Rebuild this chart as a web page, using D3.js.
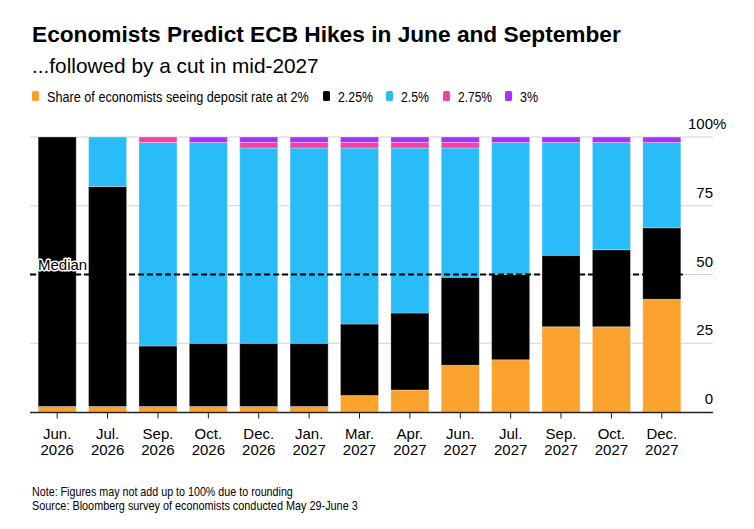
<!DOCTYPE html>
<html>
<head>
<meta charset="utf-8">
<script src="https://cdn.jsdelivr.net/npm/d3@7"></script>
<style>
  body { margin: 0; background: #fff; }
  svg { font-family: "Liberation Sans", Arial, sans-serif; }
</style>
</head>
<body>
<svg id="chart"></svg>
<script>
// Chart data
const months = ["Jun.", "Jul.", "Sep.", "Oct.", "Dec.", "Jan.", "Mar.", "Apr.", "Jun.", "Jul.", "Sep.", "Oct.", "Dec."];
const years = ["2026", "2026", "2026", "2026", "2026", "2027", "2027", "2027", "2027", "2027", "2027", "2027", "2027"];
const rate200 = [2, 2, 2, 2, 2, 2, 6, 8, 17, 19, 31, 31, 41];
const rate225 = [98, 80, 22, 23, 23, 23, 26, 28, 32, 31, 26, 28, 26];
const rate250 = [0, 18, 74, 73, 71, 71, 64, 60, 47, 48, 41, 39, 31];
const rate275 = [0, 0, 2, 0, 2, 2, 2, 2, 2, 0, 0, 0, 0];
const rate300 = [0, 0, 0, 2, 2, 2, 2, 2, 2, 2, 2, 2, 2];
const seriesNames = ["Share of economists seeing deposit rate at 2%", "2.25%", "2.5%", "2.75%", "3%"];
const seriesColors = ["#fba12d", "#000000", "#29bcf8", "#fb40a4", "#a832fb"];
const yTicks = [0, 25, 50, 75, 100];
const medianValue = 50;

const width = 754, height = 529;
const svg = d3.select("#chart").attr("width", width).attr("height", height);

// plot area
const plot = {left: 30, right: 713, top: 137, bottom: 412};

const keys = ["r200", "r225", "r250", "r275", "r300"];
const rows = months.map((m, i) => ({
  key: m + " " + years[i], month: m, year: years[i],
  r200: rate200[i], r225: rate225[i], r250: rate250[i], r275: rate275[i], r300: rate300[i]
}));

const x = d3.scaleBand()
  .domain(rows.map(d => d.key))
  .range([32, 687])
  .paddingInner(0.245)
  .paddingOuter(0.1225);

const y = d3.scaleLinear().domain([0, 100]).range([plot.bottom, plot.top]);

const color = d3.scaleOrdinal().domain(keys).range(seriesColors);

// text squeezed horizontally to a width (the original font is narrower)
function narrowText(parent, tx, ty, str, size, w) {
  const t = parent.append("text")
    .style("font-size", size + "px")
    .text(str);
  const k = Math.min(1, w / t.node().getComputedTextLength());
  t.attr("transform", `translate(${tx},${ty}) scale(${k},1)`);
  return t;
}

// Title + subtitle
svg.append("text")
  .attr("x", 32).attr("y", 42)
  .style("font-size", "22.7px").style("font-weight", "bold")
  .text("Economists Predict ECB Hikes in June and September");

svg.append("text")
  .attr("x", 32).attr("y", 73)
  .style("font-size", "20.8px")
  .text("...followed by a cut in mid-2027");

// Legend
const legendX = [32, 323, 386, 443, 505];
const legendW = [262, 35, 28, 34, 18];
const legend = svg.append("g");
seriesNames.forEach((name, i) => {
  legend.append("rect")
    .attr("x", legendX[i]).attr("y", 91)
    .attr("width", 7).attr("height", 10).attr("rx", 1.5)
    .attr("fill", seriesColors[i]);
  narrowText(legend, legendX[i] + 15, 101.5, name, 15, legendW[i]);
});

// Gridlines
svg.append("g").selectAll("line")
  .data(yTicks.filter(t => t !== 0))
  .join("line")
  .attr("x1", plot.left).attr("x2", plot.right)
  .attr("y1", d => y(d)).attr("y2", d => y(d))
  .attr("stroke", "#d2d2d2").attr("stroke-width", 1.2);

// Y tick labels on the right
svg.append("g").selectAll("text")
  .data(yTicks)
  .join("text")
  .attr("x", plot.right).attr("y", d => y(d) - 8)
  .attr("text-anchor", "end")
  .style("font-size", "15px")
  .text(d => d);
svg.append("text")
  .attr("x", plot.right).attr("y", y(100) - 8)
  .style("font-size", "15px")
  .text("%");

// Stacked bars
const stacked = d3.stack().keys(keys)(rows);

svg.append("g")
  .selectAll("g")
  .data(stacked)
  .join("g")
  .attr("fill", d => color(d.key))
  .selectAll("rect")
  .data(d => d)
  .join("rect")
  .attr("x", d => x(d.data.key))
  .attr("width", x.bandwidth())
  .attr("y", d => y(d[1]))
  .attr("height", d => y(d[0]) - y(d[1]))
  .attr("stroke", "#ffffff")
  .attr("stroke-opacity", 0.3)
  .attr("stroke-width", 1);

// Median dashed line
svg.append("line")
  .attr("x1", plot.left).attr("x2", x(rows[rows.length - 1].key) + x.bandwidth() + 2)
  .attr("y1", y(medianValue)).attr("y2", y(medianValue))
  .attr("stroke", "#000").attr("stroke-width", 2)
  .attr("stroke-dasharray", "6,3");

svg.append("text")
  .attr("x", 38).attr("y", y(medianValue) - 5)
  .style("font-size", "15px")
  .attr("fill", "#000")
  .attr("stroke", "#fff").attr("stroke-width", 3)
  .attr("stroke-linejoin", "round")
  .style("paint-order", "stroke")
  .text("Median");

// X axis
const xAxis = d3.axisBottom(x)
  .tickSize(6)
  .tickSizeOuter(0)
  .tickFormat("");

const xAxisG = svg.append("g")
  .attr("transform", `translate(0,${plot.bottom + 0.5})`)
  .call(xAxis);
xAxisG.select(".domain").remove();
xAxisG.selectAll(".tick line").attr("stroke", "#222");
svg.append("line")
  .attr("x1", plot.left).attr("x2", plot.right)
  .attr("y1", plot.bottom + 0.5).attr("y2", plot.bottom + 0.5)
  .attr("stroke", "#222").attr("stroke-width", 1.5);

const xLabels = svg.append("g").selectAll("text")
  .data(rows)
  .join("text")
  .attr("text-anchor", "middle")
  .style("font-size", "15px")
  .attr("transform", d => `translate(${x(d.key) + x.bandwidth() / 2},0)`);
xLabels.append("tspan").attr("x", 0).attr("y", 439).text(d => d.month);
xLabels.append("tspan").attr("x", 0).attr("y", 455).text(d => d.year);

// Footnotes
narrowText(svg, 32, 496, "Note: Figures may not add up to 100% due to rounding", 13, 261);
narrowText(svg, 32, 510, "Source: Bloomberg survey of economists conducted May 29-June 3", 13, 326);
</script>
</body>
</html>
